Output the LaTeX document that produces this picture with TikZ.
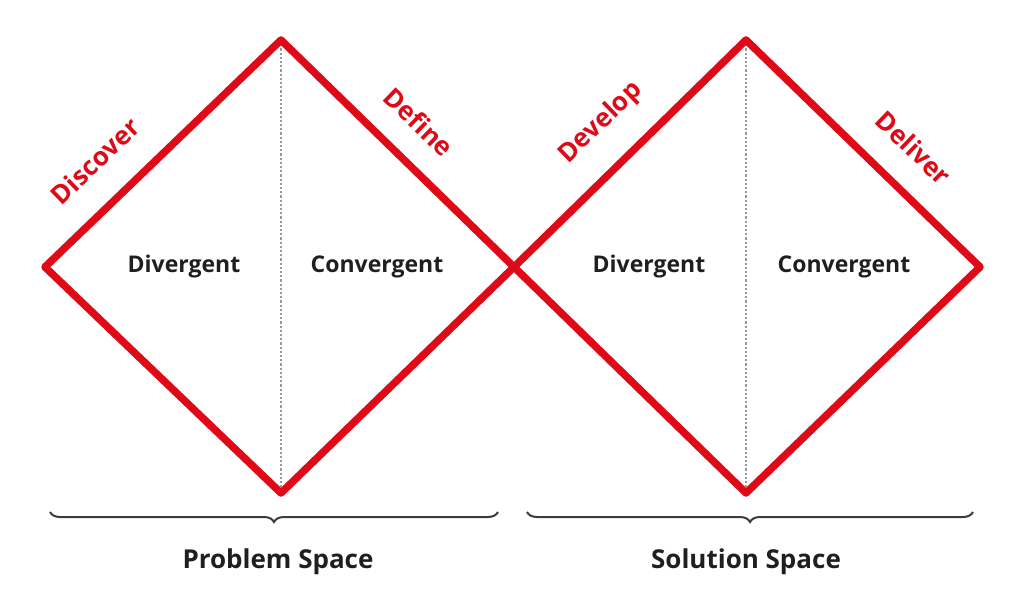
\documentclass[tikz,border=0pt]{standalone}
\usepackage{fontspec}
\setmainfont{Open Sans}
\usetikzlibrary{decorations.pathreplacing}
\definecolor{dred}{RGB}{222,10,24}
\definecolor{brc}{RGB}{60,60,60}
\begin{document}
\begin{tikzpicture}[x=1pt,y=-1pt,
  dia/.style={draw=dred,line width=7.5pt,line join=round},
  mid/.style={draw=gray!80,line width=2.2pt,dotted},
  inner/.style={font=\fontsize{23}{26}\selectfont\bfseries,text=black!88},
  phase/.style={font=\fontsize{26}{30}\selectfont\bfseries,text=dred},
  space/.style={font=\fontsize{26}{30}\selectfont\bfseries,text=black!88},
  brc/.style={draw=brc,line width=2pt,decorate,decoration={brace,mirror,amplitude=10pt}}]
\useasboundingbox (0,0) rectangle (1024,612);
\coordinate (L) at (45,267);
\coordinate (T1) at (281,40);
\coordinate (B1) at (281,493);
\coordinate (C) at (514,267);
\coordinate (T2) at (746,40);
\coordinate (B2) at (746,493);
\coordinate (R) at (980,267);
\draw[mid] (T1) -- (B1);
\draw[mid] (T2) -- (B2);
\draw[dia] (L) -- (T1) -- (C) -- (B1) -- cycle;
\draw[dia] (C) -- (T2) -- (R) -- (B2) -- cycle;
\node[inner] (d1) at (184,267) {Divergent};
\node[inner] (c1) at (377,267) {Convergent};
\node[inner] (d2) at (649,267) {Divergent};
\node[inner] (c2) at (844,267) {Convergent};
\node[phase,rotate=44] (p1) at (95,161) {Discover};
\node[phase,rotate=-44] (p2) at (419,122) {Define};
\node[phase,rotate=44] (p3) at (601,123) {Develop};
\node[phase,rotate=-44] (p4) at (914,148) {Deliver};
\coordinate (a1) at (50,512); \coordinate (a2) at (498,512);
\coordinate (b1) at (527,512); \coordinate (b2) at (973,512);
\draw[brc] (a1) -- (a2);
\draw[brc] (b1) -- (b2);
\node[space] (s1) at (278,562) {Problem Space};
\node[space] (s2) at (746,562) {Solution Space};
\end{tikzpicture}
\end{document}
